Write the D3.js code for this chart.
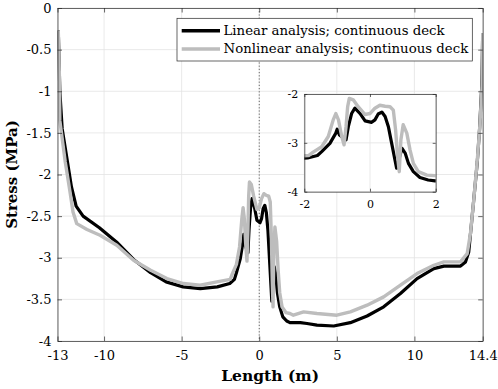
<!DOCTYPE html>
<html>
<head>
<meta charset="utf-8">
<script src="https://cdn.jsdelivr.net/npm/d3@7"></script>
<style>
  body { margin: 0; background: #fff; }
  svg { display: block; }
</style>
</head>
<body>
<div id="viz"></div>
<script>
// data: [length (m), stress (MPa)]
const linearDeck = [
  [-12.95, -0.27], [-12.85, -1.0], [-12.7, -1.45], [-12.4, -1.8], [-12.1, -2.15],
  [-11.8, -2.38], [-11.35, -2.5], [-10.3, -2.64], [-9.2, -2.81], [-8.1, -3.02],
  [-7.0, -3.18], [-6.0, -3.29], [-4.9, -3.35], [-3.8, -3.37], [-2.7, -3.35],
  [-1.9, -3.31], [-1.6, -3.26], [-1.47, -3.18], [-1.22, -3.01], [-1.04, -2.80],
  [-1.0, -2.72], [-0.93, -2.84], [-0.73, -2.94], [-0.66, -2.67], [-0.56, -2.40],
  [-0.46, -2.29], [-0.30, -2.40], [-0.15, -2.55], [0.05, -2.58], [0.15, -2.53],
  [0.25, -2.41], [0.36, -2.37], [0.46, -2.46], [0.56, -2.67], [0.66, -3.01],
  [0.76, -3.35], [0.81, -3.52], [0.97, -3.11], [1.07, -3.21], [1.17, -3.42],
  [1.32, -3.59], [1.52, -3.71], [1.77, -3.76], [1.98, -3.78], [2.65, -3.78],
  [3.08, -3.79], [3.72, -3.81], [4.8, -3.82], [5.87, -3.78], [6.95, -3.70],
  [8.02, -3.59], [9.1, -3.43], [10.17, -3.25], [11.25, -3.13], [11.9, -3.10],
  [12.97, -3.10], [13.29, -3.05], [13.5, -2.93], [13.8, -2.35], [14.05, -1.85],
  [14.2, -1.45], [14.35, -0.9], [14.4, -0.3]
];

const nonlinearDeck = [
  [-12.95, -0.27], [-12.88, -0.8], [-12.85, -1.35], [-12.5, -1.85], [-12.2, -2.2],
  [-12.0, -2.45], [-11.76, -2.59], [-11.1, -2.66], [-10.26, -2.73], [-9.18, -2.85],
  [-8.1, -3.03], [-7.0, -3.15], [-5.95, -3.25], [-4.88, -3.31], [-3.81, -3.33],
  [-2.73, -3.29], [-1.87, -3.26], [-1.73, -3.19], [-1.47, -3.08], [-1.27, -2.87],
  [-1.12, -2.53], [-1.04, -2.40], [-0.96, -2.53], [-0.86, -2.87], [-0.79, -3.04],
  [-0.73, -2.67], [-0.68, -2.26], [-0.63, -2.09], [-0.51, -2.12], [-0.36, -2.26],
  [-0.15, -2.42], [0.0, -2.40], [0.15, -2.29], [0.30, -2.23], [0.46, -2.25],
  [0.61, -2.26], [0.71, -2.33], [0.78, -2.74], [0.84, -3.28], [0.89, -3.59],
  [0.94, -2.94], [1.01, -2.63], [1.12, -2.80], [1.22, -3.15], [1.32, -3.42],
  [1.47, -3.59], [1.73, -3.66], [1.98, -3.67], [2.2, -3.69], [2.86, -3.65],
  [3.72, -3.67], [5.0, -3.69], [5.87, -3.65], [6.95, -3.57], [8.02, -3.47],
  [9.1, -3.33], [10.17, -3.19], [11.25, -3.09], [11.9, -3.05], [12.97, -3.05],
  [13.4, -2.95], [13.61, -2.71], [13.82, -2.31], [14.05, -1.83], [14.21, -1.43],
  [14.37, -0.9], [14.4, -0.3]
];

const legendLabels = ['Linear analysis; continuous deck', 'Nonlinear analysis; continuous deck'];
const xTicks = [-13, -10, -5, 0, 5, 10, 14.4];
const yTicks = [0, -0.5, -1, -1.5, -2, -2.5, -3, -3.5, -4];
const insetXTicks = [-2, 0, 2];
const insetYTicks = [-2, -3, -4];

const w = 498;
const h = 389;
const axisColor = '#262626';
const gridColor = '#e3e3e3';
const font = '"DejaVu Serif", serif';
const seriesStyle = [
  { data: linearDeck, color: '#000000', width: 3.2 },
  { data: nonlinearDeck, color: '#bdbdbd', width: 3.4 }
];

const svg = d3.select('#viz').append('svg')
  .attr('width', w)
  .attr('height', h);

// main axes area
const pLeft = 57.5, pRight = 482.7, pTop = 8, pBottom = 341;

const xScale = d3.scaleLinear().domain([-13, 14.4]).range([pLeft, pRight]);
const yScale = d3.scaleLinear().domain([-4, 0]).range([pBottom, pTop]);

function drawGrid(g, xs, ys, xt, yt, x0, x1, y0, y1) {
  g.append('g')
    .selectAll('line')
    .data(xt)
    .enter().append('line')
    .attr('x1', d => xs(d)).attr('x2', d => xs(d))
    .attr('y1', y0).attr('y2', y1)
    .attr('stroke', gridColor).attr('stroke-width', 0.8);
  g.append('g')
    .selectAll('line')
    .data(yt)
    .enter().append('line')
    .attr('y1', d => ys(d)).attr('y2', d => ys(d))
    .attr('x1', x0).attr('x2', x1)
    .attr('stroke', gridColor).attr('stroke-width', 0.8);
}

function drawFrame(g, xs, ys, xt, yt, x0, x1, y0, y1, fontSize, tick, padX, padY) {
  const fmt = d => String(d);

  const bx = g.append('g').attr('transform', 'translate(0,' + y1 + ')')
    .call(d3.axisBottom(xs).tickValues(xt).tickFormat(fmt).tickSizeInner(-tick).tickSizeOuter(0).tickPadding(padX));
  const tx = g.append('g').attr('transform', 'translate(0,' + y0 + ')')
    .call(d3.axisTop(xs).tickValues(xt).tickFormat('').tickSizeInner(-tick).tickSizeOuter(0));
  const ly = g.append('g').attr('transform', 'translate(' + x0 + ',0)')
    .call(d3.axisLeft(ys).tickValues(yt).tickFormat(fmt).tickSizeInner(-tick).tickSizeOuter(0).tickPadding(padY));
  const ry = g.append('g').attr('transform', 'translate(' + x1 + ',0)')
    .call(d3.axisRight(ys).tickValues(yt).tickFormat('').tickSizeInner(-tick).tickSizeOuter(0));

  [bx, tx, ly, ry].forEach(a => {
    a.selectAll('path, line').attr('stroke', axisColor).attr('stroke-width', 0.7);
    a.selectAll('text').attr('fill', '#000').style('font-family', font).style('font-size', fontSize + 'px');
  });
}

function drawLines(g, xs, ys, clipId) {
  const line = d3.line().x(d => xs(d[0])).y(d => ys(d[1]));
  seriesStyle.forEach(s => {
    g.append('path')
      .datum(s.data)
      .attr('clip-path', 'url(#' + clipId + ')')
      .attr('fill', 'none')
      .attr('stroke', s.color)
      .attr('stroke-width', s.width)
      .attr('stroke-linejoin', 'round')
      .attr('d', line);
  });
}

const defs = svg.append('defs');
defs.append('clipPath').attr('id', 'mainClip')
  .append('rect').attr('x', pLeft).attr('y', pTop - 2).attr('width', pRight - pLeft).attr('height', pBottom - pTop + 2);

const main = svg.append('g');
drawGrid(main, xScale, yScale, xTicks, yTicks, pLeft, pRight, pTop, pBottom);

// dotted line at x = 0
main.append('line')
  .attr('x1', xScale(0)).attr('x2', xScale(0))
  .attr('y1', pTop).attr('y2', pBottom)
  .attr('stroke', '#444')
  .attr('stroke-width', 0.8)
  .attr('stroke-dasharray', '1.2,2');

drawLines(main, xScale, yScale, 'mainClip');
drawFrame(main, xScale, yScale, xTicks, yTicks, pLeft, pRight, pTop, pBottom, 13, 4.5, 10, 6);

// axis labels
svg.append('text')
  .attr('x', (pLeft + pRight) / 2)
  .attr('y', 381)
  .attr('text-anchor', 'middle')
  .style('font-family', font)
  .style('font-weight', 'bold')
  .style('font-size', '15.5px')
  .text('Length (m)');

svg.append('text')
  .attr('transform', 'translate(17,' + (pTop + pBottom) / 2 + ') rotate(-90)')
  .attr('text-anchor', 'middle')
  .style('font-family', font)
  .style('font-weight', 'bold')
  .style('font-size', '15px')
  .text('Stress (MPa)');

// legend
const legend = svg.append('g');
legend.append('rect')
  .attr('x', 177).attr('y', 18.3)
  .attr('width', 295.3).attr('height', 42.7)
  .attr('fill', '#fff')
  .attr('stroke', axisColor)
  .attr('stroke-width', 0.7);

legendLabels.forEach((label, i) => {
  const yy = 30.7 + i * 18.3;
  legend.append('line')
    .attr('x1', 181.7).attr('x2', 220)
    .attr('y1', yy).attr('y2', yy)
    .attr('stroke', seriesStyle[i].color)
    .attr('stroke-width', 3.5);
  legend.append('text')
    .attr('x', 223.5)
    .attr('y', yy + 4)
    .style('font-family', font)
    .style('font-size', '13.3px')
    .text(label);
});

// inset
const il = 304.3, ir = 435.7, it = 94, ib = 191.7;
const insetX = d3.scaleLinear().domain([-2, 2]).range([il, ir]);
const insetY = d3.scaleLinear().domain([-4, -2]).range([ib, it]);

defs.append('clipPath').attr('id', 'insetClip')
  .append('rect').attr('x', il).attr('y', it).attr('width', ir - il).attr('height', ib - it);

const inset = svg.append('g');
inset.append('rect')
  .attr('x', il).attr('y', it)
  .attr('width', ir - il).attr('height', ib - it)
  .attr('fill', '#fff');
drawGrid(inset, insetX, insetY, insetXTicks, insetYTicks, il, ir, it, ib);
drawLines(inset, insetX, insetY, 'insetClip');
drawFrame(inset, insetX, insetY, insetXTicks, insetYTicks, il, ir, it, ib, 11, 3, 8.5, 6);
</script>
</body>
</html>
